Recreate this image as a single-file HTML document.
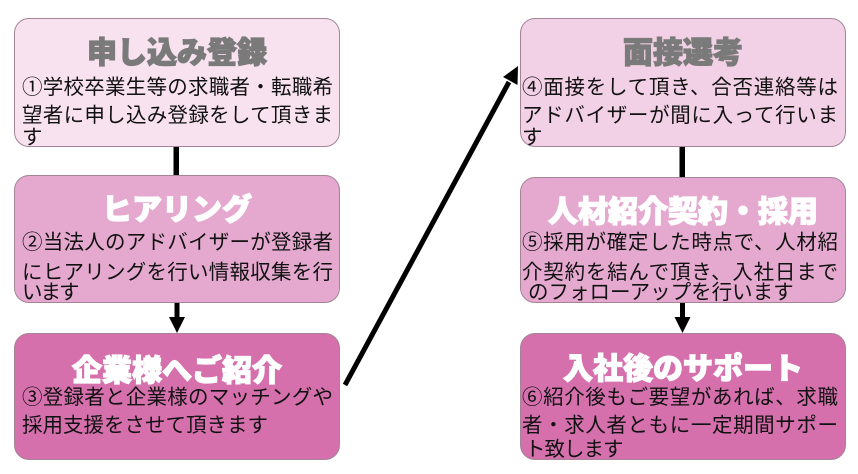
<!DOCTYPE html>
<html><head><meta charset="utf-8">
<style>
html,body{margin:0;padding:0;background:#fff;}
body{width:858px;height:474px;position:relative;overflow:hidden;font-family:"Liberation Sans","Noto Sans CJK JP",sans-serif;}
.box{position:absolute;border:1px solid #a58496;border-radius:15px;box-sizing:border-box;}
.t{position:absolute;left:0;width:100%;text-align:center;font-family:"Noto Sans CJK JP",sans-serif;font-weight:900;font-size:30px;line-height:36px;-webkit-text-stroke:1.2px currentColor;letter-spacing:0px;}
.l{position:absolute;font-family:"Noto Sans CJK JP",sans-serif;font-size:20.5px;line-height:28px;color:#111;width:311px;white-space:nowrap;}
.j{text-align:justify;text-align-last:justify;}
.gray{color:#7a7a7a;}
.white{color:#fff;}
</style></head><body>

<!-- Left column -->
<div class="box" style="left:14px;top:18px;width:326px;height:129px;background:#f8e2ef;"></div>
<div class="box" style="left:14px;top:175px;width:326px;height:128px;background:#e5a9cf;"></div>
<div class="box" style="left:14px;top:333px;width:326px;height:127px;background:#d570ad;"></div>

<!-- Right column -->
<div class="box" style="left:520px;top:18px;width:326px;height:129px;background:#f2d0e5;"></div>
<div class="box" style="left:520px;top:177px;width:326px;height:126px;background:#e5a9cf;"></div>
<div class="box" style="left:520px;top:333px;width:326px;height:127px;background:#d570ad;"></div>

<!-- connectors -->
<svg width="858" height="474" style="position:absolute;left:0;top:0;">
  <rect x="173.5" y="147" width="5.5" height="28" fill="#000"/>
  <rect x="174.5" y="303" width="5" height="16" fill="#000"/>
  <polygon points="169,317 185,317 177,333" fill="#000"/>
  <rect x="679.5" y="147" width="5.5" height="30" fill="#000"/>
  <rect x="680" y="303" width="5" height="15" fill="#000"/>
  <polygon points="674.5,317 690.5,317 682.5,333" fill="#000"/>
  <line x1="345" y1="385" x2="509" y2="82" stroke="#000" stroke-width="5"/>
  <polygon points="518,66 517.5,85 503,77" fill="#000"/>
</svg>

<!-- Box 1 -->
<div class="t gray" style="left:14px;width:326px;top:32px;">申し込み登録</div>
<div class="l j" style="left:22px;top:71px;">①学校卒業生等の求職者・転職希</div>
<div class="l j" style="left:22px;top:99px;">望者に申し込み登録をして頂きま</div>
<div class="l" style="left:22px;top:121px;">す</div>

<!-- Box 2 -->
<div class="t white" style="left:14px;width:326px;top:189px;">ヒアリング</div>
<div class="l j" style="left:22px;top:226px;">②当法人のアドバイザーが登録者</div>
<div class="l j" style="left:22px;top:256px;">にヒアリングを行い情報収集を行</div>
<div class="l" style="left:22px;top:276px;letter-spacing:-2px;">います</div>

<!-- Box 3 -->
<div class="t white" style="left:14px;width:326px;top:350px;">企業様へご紹介</div>
<div class="l j" style="left:22px;top:381px;">③登録者と企業様のマッチングや</div>
<div class="l" style="left:22px;top:409px;letter-spacing:0px;">採用支援をさせて頂きます</div>

<!-- Box 4 -->
<div class="t gray" style="left:520px;width:326px;top:32px;">面接選考</div>
<div class="l j" style="left:522px;top:71px;width:316px;">④面接をして頂き、合否連絡等は</div>
<div class="l j" style="left:522px;top:99px;width:316px;">アドバイザーが間に入って行いま</div>
<div class="l" style="left:522px;top:121px;">す</div>

<!-- Box 5 -->
<div class="t white" style="left:520px;width:326px;top:191px;">人材紹介契約・採用</div>
<div class="l j" style="left:522px;top:226px;width:316px;">⑤採用が確定した時点で、人材紹</div>
<div class="l j" style="left:522px;top:256px;width:316px;">介契約を結んで頂き、入社日まで</div>
<div class="l" style="left:528px;top:276px;letter-spacing:0px;">のフォローアップを行います</div>

<!-- Box 6 -->
<div class="t white" style="left:520px;width:326px;top:348px;">入社後のサポート</div>
<div class="l j" style="left:522px;top:381px;width:316px;">⑥紹介後もご要望があれば、求職</div>
<div class="l j" style="left:522px;top:409px;width:316px;">者・求人者ともに一定期間サポー</div>
<div class="l" style="left:525px;top:433px;letter-spacing:-1px;">ト致します</div>

</body></html>
